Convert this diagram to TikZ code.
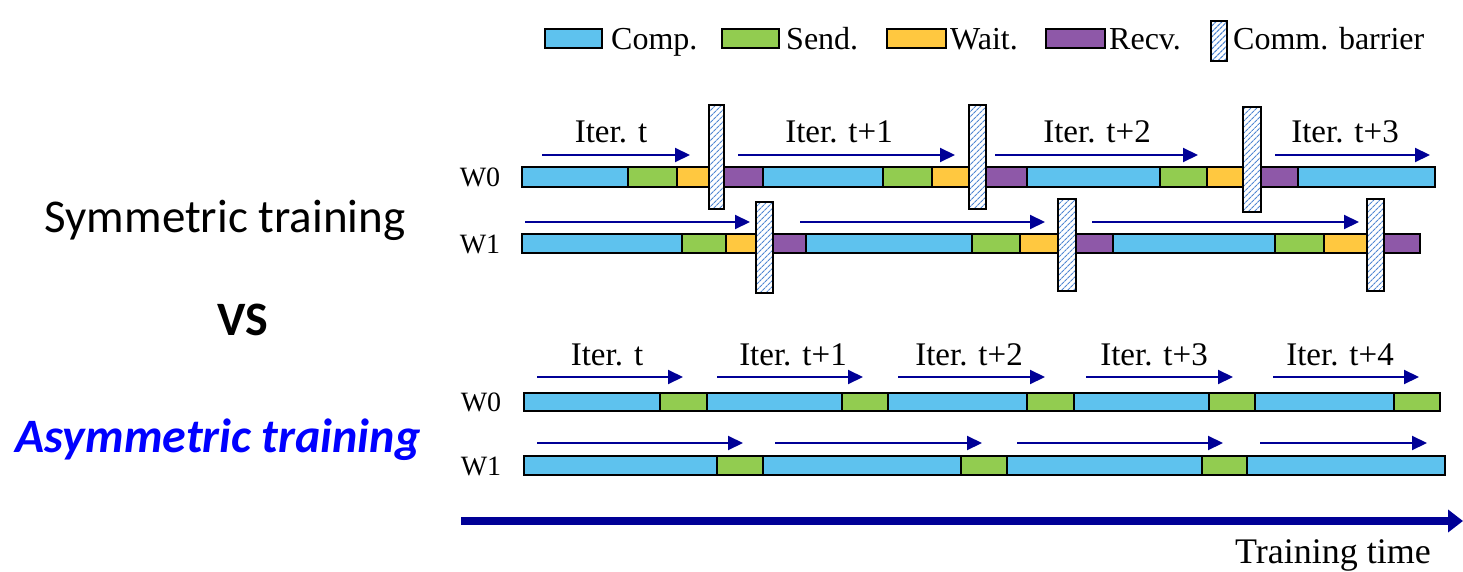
\documentclass[tikz,border=0pt]{standalone}
\usepackage{fontspec}
\setmainfont{Liberation Serif}
\newfontfamily\calfont{Carlito}
\usetikzlibrary{arrows.meta, patterns.meta, positioning}

\definecolor{compc}{RGB}{94,194,238}
\definecolor{sendc}{RGB}{146,204,80}
\definecolor{waitc}{RGB}{255,200,64}
\definecolor{recvc}{RGB}{142,88,168}
\definecolor{hatchc}{RGB}{80,135,210}
\definecolor{arrc}{RGB}{0,0,150}

\tikzset{
  seg/.style={draw=black, line width=2pt},
  barrier/.style={draw=black, line width=2pt, preaction={fill=white},
    pattern={Lines[angle=45,distance=4pt,line width=1.2pt]}, pattern color=hatchc},
  iterarr/.style={arrc, line width=2pt, -{Triangle[length=15pt,width=14pt]}},
  itertxt/.style={font=\fontsize{33}{36}\selectfont, anchor=base, inner sep=0pt},
  wtxt/.style={font=\fontsize{28}{30}\selectfont, inner sep=0pt},
  legbox/.style={draw=black, line width=2pt, minimum width=57pt, minimum height=19pt, inner sep=0pt},
  legtxt/.style={font=\fontsize{32}{36}\selectfont, inner sep=0pt, anchor=base west}
}

\begin{document}
\begin{tikzpicture}[x=1pt, y=-1pt]
  \useasboundingbox (0,0) rectangle (1463,572);

  % legend
  \node[legbox, fill=compc] (lgcomp) at (573.5,38.5) {};
  \node[legtxt] (ltcomp) at (611,50) {Comp.};
  \node[legbox, fill=sendc] (lgsend) at (750,38.5) {};
  \node[legtxt] (ltsend) at (786,50) {Send.};
  \node[legbox, fill=waitc, minimum width=59pt] (lgwait) at (916.5,38.5) {};
  \node[legtxt] (ltwait) at (950,50) {Wait.};
  \node[legbox, fill=recvc, minimum width=59pt] (lgrecv) at (1075.5,38.5) {};
  \node[legtxt] (ltrecv) at (1109,50) {Recv.};
  \node[barrier, minimum width=16pt, minimum height=40pt, inner sep=0pt] (lgbar) at (1219,41) {};
  \node[legtxt] (ltbar) at (1233,50) {Comm. barrier};

  % left titles
  \node[font=\calfont\fontsize{47}{50}\selectfont, anchor=base, inner sep=0pt] (sym) at (225,232) {Symmetric training};
  \node[font=\calfont\bfseries\fontsize{48}{50}\selectfont, anchor=base, inner sep=0pt] (vs) at (243,335) {VS};
  \node[font=\calfont\bfseries\itshape\fontsize{48}{50}\selectfont, text=blue, anchor=base, inner sep=0pt] (asym) at (218,452) {Asymmetric training};

  % symmetric training
  \node[wtxt] (sw0) at (480,177) {W0};
  \node[wtxt] (sw1) at (480,244) {W1};
  \foreach \a/\b/\c in {522/628/compc, 628/677/sendc, 677/716/waitc, 716/763/recvc,
                        763/883/compc, 883/932/sendc, 932/977/waitc, 977/1027/recvc,
                        1027/1160/compc, 1160/1207/sendc, 1207/1252/waitc, 1252/1298/recvc,
                        1298/1435/compc}
    \draw[seg, fill=\c] (\a,167) rectangle (\b,187);
  \foreach \a/\b/\c in {522/682/compc, 682/726/sendc, 726/764/waitc, 764/806/recvc,
                        806/972/compc, 972/1020/sendc, 1020/1067/waitc, 1067/1113/recvc,
                        1113/1275/compc, 1275/1324/sendc, 1324/1375/waitc, 1375/1420/recvc}
    \draw[seg, fill=\c] (\a,234) rectangle (\b,253);
  \foreach \a/\b/\t/\u in {709/724/105/209, 969/986/105/209, 1243/1261/107/212,
                           756/773/202/293, 1058/1076/199/291, 1367/1384/199/291}
    \draw[barrier] (\a,\t) rectangle (\b,\u);
  \foreach \a/\b in {542/690, 738/955, 995/1198, 1275/1430}
    \draw[iterarr] (\a,155) -- (\b,155);
  \foreach \a/\b in {525/750, 800/1045, 1092/1359}
    \draw[iterarr] (\a,222) -- (\b,222);
  \node[itertxt] (si0) at (611,143) {Iter. t};
  \node[itertxt] (si1) at (839,143) {Iter. t+1};
  \node[itertxt] (si2) at (1097,143) {Iter. t+2};
  \node[itertxt] (si3) at (1345,143) {Iter. t+3};

  % asymmetric training
  \node[wtxt] (aw0) at (481,402) {W0};
  \node[wtxt] (aw1) at (481,466) {W1};
  \foreach \a/\b/\c in {524/660/compc, 660/707/sendc, 707/842/compc, 842/888/sendc,
                        888/1027/compc, 1027/1074/sendc, 1074/1209/compc, 1209/1255/sendc,
                        1255/1394/compc, 1394/1440/sendc}
    \draw[seg, fill=\c] (\a,393) rectangle (\b,411);
  \foreach \a/\b/\c in {524/717/compc, 717/763/sendc, 763/961/compc, 961/1007/sendc,
                        1007/1202/compc, 1202/1247/sendc, 1247/1445/compc}
    \draw[seg, fill=\c] (\a,456) rectangle (\b,475);
  \foreach \a/\b in {537/683, 717/863, 898/1045, 1086/1233, 1273/1419}
    \draw[iterarr] (\a,377) -- (\b,377);
  \foreach \a/\b in {537/743, 775/982, 1017/1223, 1260/1427}
    \draw[iterarr] (\a,443) -- (\b,443);
  \node[itertxt] (ai0) at (607,365) {Iter. t};
  \node[itertxt] (ai1) at (793,365) {Iter. t+1};
  \node[itertxt] (ai2) at (969,365) {Iter. t+2};
  \node[itertxt] (ai3) at (1154,365) {Iter. t+3};
  \node[itertxt] (ai4) at (1340,365) {Iter. t+4};

  % time axis
  \coordinate (tstart) at (461,521);
  \coordinate (tend) at (1463,521);
  \draw[arrc, line width=8pt, -{Triangle[length=15pt,width=22pt]}] (tstart) -- (tend);
  \node[font=\fontsize{36}{40}\selectfont, anchor=base, inner sep=0pt] (ttime) at (1333,563) {Training time};
\end{tikzpicture}
\end{document}
